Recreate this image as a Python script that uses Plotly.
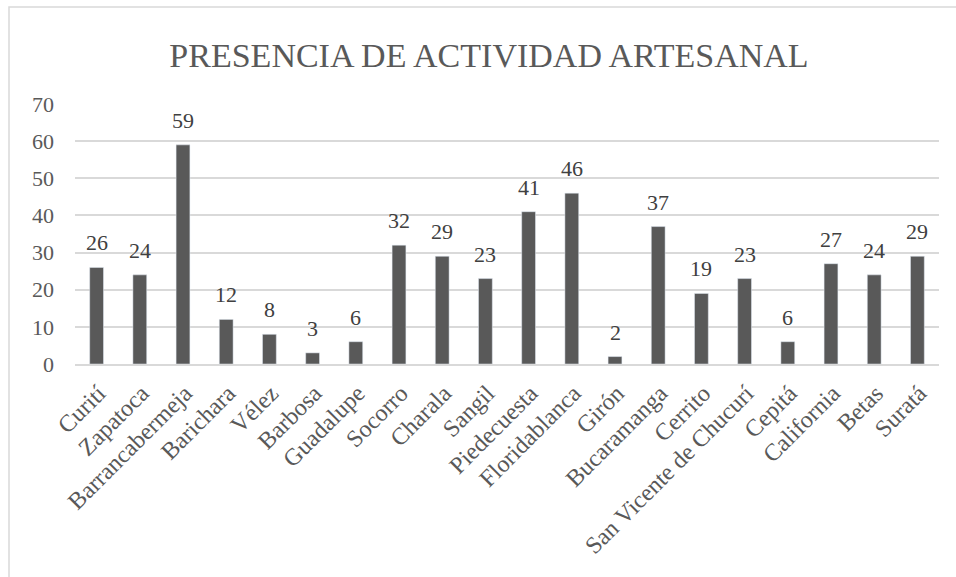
import plotly.graph_objects as go

categories = ["Curití", "Zapatoca", "Barrancabermeja", "Barichara", "Vélez", "Barbosa",
              "Guadalupe", "Socorro", "Charala", "Sangil", "Piedecuesta", "Floridablanca",
              "Girón", "Bucaramanga", "Cerrito", "San Vicente de Chucurí", "Cepitá",
              "California", "Betas", "Suratá"]
values = [26, 24, 59, 12, 8, 3, 6, 32, 29, 23, 41, 46, 2, 37, 19, 23, 6, 27, 24, 29]
y_ticks = [0, 10, 20, 30, 40, 50, 60, 70]

FONT = "Liberation Serif"
GRAY = "#595959"
TXT = "#404040"

fig = go.Figure(go.Bar(
    x=categories, y=values, marker_color=GRAY, width=0.32, hoverinfo="x+y",
))

fig.update_layout(annotations=[
    dict(x=c, y=v, xref="x", yref="y", text=str(v), showarrow=False,
         yanchor="bottom", yshift=10, font=dict(family=FONT, size=22, color=TXT))
    for c, v in zip(categories, values)
])

L, R, T, B = 75, 17, 104, 213
W, H = 956, 577
pw, ph = W - L - R, H - T - B

fig.update_layout(
    width=W, height=H,
    margin=dict(l=L, r=R, t=T, b=B),
    plot_bgcolor="white", paper_bgcolor="white",
    title=dict(text="PRESENCIA DE ACTIVIDAD ARTESANAL", x=489 / W, xanchor="center",
               y=1 - 55 / H, yanchor="middle",
               font=dict(family=FONT, size=34, color=GRAY)),
    xaxis=dict(tickangle=-45, tickfont=dict(family=FONT, size=24, color=GRAY),
               showgrid=False, showline=True, linecolor="#d9d9d9", linewidth=1.5,
               ticks="", ticklabelshift=2, ticklabelstandoff=4, automargin=False),
    yaxis=dict(range=[0, 70], tickvals=y_ticks, gridcolor="#d9d9d9", gridwidth=1.5,
               tickfont=dict(family=FONT, size=22, color=GRAY), zeroline=False,
               ticks="", ticklabelstandoff=20, automargin=False),
    showlegend=False,
    shapes=[dict(type="rect", xref="paper", yref="paper",
                 x0=(9 - L) / pw, x1=(962 - L) / pw,
                 y0=-(585 - (H - B)) / ph, y1=1 + (T - 7) / ph,
                 line=dict(color="#d9d9d9", width=1.5), layer="below")],
)

fig.write_html("out.html", config={"displayModeBar": False},
               post_script="document.body.style.margin='0';")
